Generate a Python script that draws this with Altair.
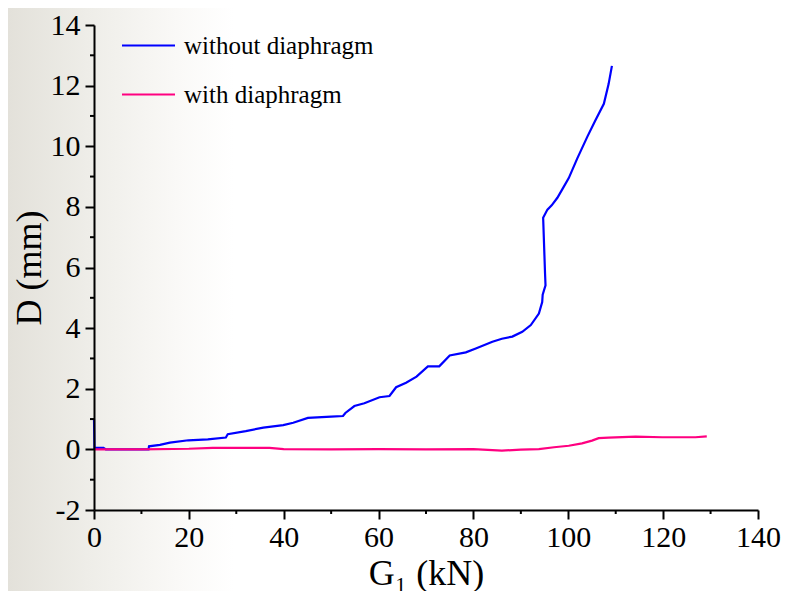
import altair as alt
import pandas as pd

# ---- data ----
blue_G = [0, 0.1, 2.0, 2.5, 11.5, 11.6, 13.9, 16, 19.9, 24, 27.8, 28.2, 32, 35.7, 39.9, 42,
          45.1, 50, 52.5, 53, 54.9, 57, 60.2, 62.3, 63.7, 65.8, 68, 70.4, 72.8, 75, 78.4,
          80.5, 84, 86, 88.2, 90.3, 92.1, 93.8, 94.5, 94.6, 95.2, 95.1, 94.7, 95.6, 96.5,
          97.7, 99.0, 100.1, 101.9, 104, 105.7, 107.5, 108.5, 109.2]
blue_D = [1.0, 0.05, 0.05, 0.0, 0.0, 0.1, 0.15, 0.22, 0.3, 0.33, 0.39, 0.5, 0.6, 0.72, 0.8, 0.88,
          1.04, 1.08, 1.1, 1.2, 1.43, 1.52, 1.72, 1.76, 2.05, 2.2, 2.4, 2.74, 2.74, 3.1, 3.2,
          3.33, 3.55, 3.65, 3.72, 3.88, 4.1, 4.48, 4.86, 5.1, 5.41, 5.8, 7.64, 7.91, 8.05,
          8.3, 8.65, 8.95, 9.6, 10.31, 10.85, 11.4, 12.05, 12.65]

pink_G = [0, 10, 20, 25, 30, 37, 40, 50, 60, 70, 80, 86, 90, 93.8, 97, 100.1, 102.9, 105,
          106.4, 108.5, 114.2, 119.8, 126.8, 129.2]
pink_D = [0, 0, 0.02, 0.05, 0.05, 0.05, 0.01, 0, 0.01, 0, 0.01, -0.04, -0.01, 0.01, 0.07,
          0.12, 0.2, 0.29, 0.37, 0.39, 0.42, 0.4, 0.4, 0.43]

series_names = ["without diaphragm", "with diaphragm"]
series_colors = ["#0000ff", "#ff0080"]

x_major = [0, 20, 40, 60, 80, 100, 120, 140]
x_minor = [10, 30, 50, 70, 90, 110, 130]
y_major = [-2, 0, 2, 4, 6, 8, 10, 12, 14]
y_minor = [-1, 1, 3, 5, 7, 9, 11, 13]

rows = []
for i, (g, d) in enumerate(zip(blue_G, blue_D)):
    rows.append({"series": series_names[0], "G": g, "D": d, "idx": i})
for i, (g, d) in enumerate(zip(pink_G, pink_D)):
    rows.append({"series": series_names[1], "G": g, "D": d, "idx": i})
df = pd.DataFrame(rows)

FONT = "Liberation Serif"
TFONT = "Liberation Serif, DejaVu Serif, serif"
W, H = 664, 485
PL, PT = 86, 17

xscale = alt.Scale(domain=[0, 140], nice=False, zero=False)
yscale = alt.Scale(domain=[-2, 14], nice=False, zero=False)

# background gradient (slide-like)
bg = alt.Chart(pd.DataFrame({"a": [0]})).mark_rect(
    fill=alt.Gradient(
        gradient="linear", x1=0, x2=1, y1=0, y2=0,
        stops=[alt.GradientStop(offset=0, color="#e3e1da"),
               alt.GradientStop(offset=0.35, color="#eeede8"),
               alt.GradientStop(offset=0.75, color="#faf9f7"),
               alt.GradientStop(offset=1, color="#ffffff")]),
    strokeWidth=0,
).encode(x=alt.value(-PL), x2=alt.value(140), y=alt.value(-PT), y2=alt.value(H + 81))

lines = alt.Chart(df).mark_line(strokeWidth=2.2).encode(
    x=alt.X("G:Q", scale=xscale,
            axis=alt.Axis(values=x_major, title="G₁ (kN)", labelExpr="'' + datum.value",
                          zindex=2, labelFlush=False,
                          titleY=74, titleBaseline="alphabetic")),
    y=alt.Y("D:Q", scale=yscale,
            axis=alt.Axis(values=y_major, title="D (mm)", labelExpr="'' + datum.value",
                          zindex=2, labelFlush=False,
                          titleX=-54, titleBaseline="alphabetic")),
    color=alt.Color("series:N",
                    scale=alt.Scale(domain=series_names, range=series_colors),
                    legend=alt.Legend(title=None, orient="none", legendX=27, legendY=-7,
                                      symbolType="stroke", symbolSize=2809,
                                      symbolStrokeWidth=2, labelFont=FONT,
                                      labelFontSize=25, labelColor="black", labelLimit=0,
                                      labelOffset=8, rowPadding=8, padding=0)),
    order=alt.Order("idx:Q"),
)

xminor = alt.Chart(pd.DataFrame({"G": x_minor})).mark_rule(color="black", strokeWidth=2).encode(
    x=alt.X("G:Q", scale=xscale), y=alt.value(H), y2=alt.value(H + 4))
yminor = alt.Chart(pd.DataFrame({"D": y_minor})).mark_rule(color="black", strokeWidth=2).encode(
    y=alt.Y("D:Q", scale=yscale), x=alt.value(0), x2=alt.value(-4))

chart = alt.layer(bg, lines, xminor, yminor).properties(
    width=W, height=H,
    autosize=alt.AutoSizeParams(type="none"),
    padding={"left": PL, "top": PT, "right": 24, "bottom": 81},
).configure_view(stroke=None).configure_axis(
    zindex=2, grid=False, domainColor="black", domainWidth=2, tickColor="black",
    tickWidth=2, tickSize=9, labelFont=FONT, labelFontSize=30, labelColor="black",
    titleFont=TFONT, titleFontSize=36, titleFontWeight="normal",
    titleColor="black",
).configure_axisX(labelPadding=3).configure_axisY(labelPadding=5)

chart.save("out.html", embed_options={"renderer": "svg", "actions": False})
